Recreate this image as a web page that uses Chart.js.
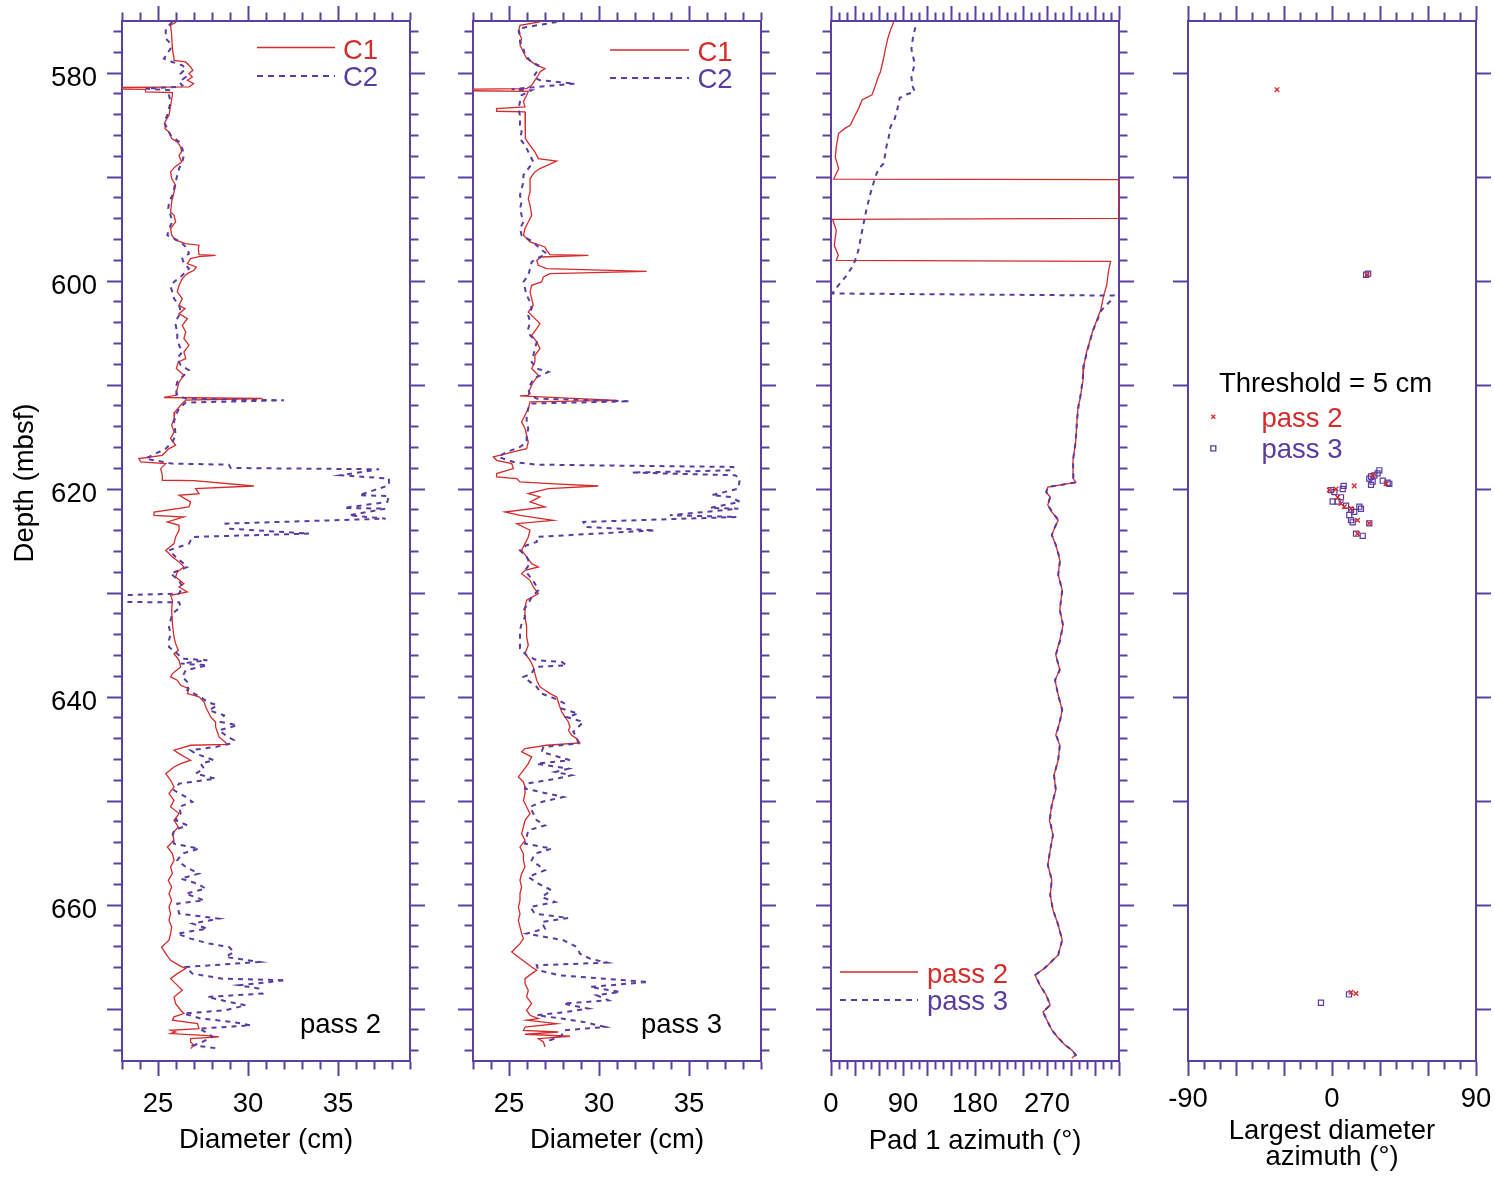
<!DOCTYPE html>
<html>
<head>
<meta charset="utf-8">
<title>Caliper and azimuth logs, 575–675 mbsf</title>
<script src="https://cdn.jsdelivr.net/npm/chart.js@4.4.1/dist/chart.umd.min.js"></script>
<style>
  html, body { margin: 0; padding: 0; background: #fff; }
  body { width: 1495px; height: 1178px; position: relative; overflow: hidden; }
  canvas { position: absolute; top: 0; }
</style>
</head>
<body>
<canvas id="c1" width="435" height="1178" style="left:0px"></canvas>
<canvas id="c2" width="338" height="1178" style="left:448px"></canvas>
<canvas id="c3" width="338" height="1178" style="left:806px"></canvas>
<canvas id="c4" width="348" height="1178" style="left:1158px"></canvas>
<script>
// ---------- Pass 2 calipers (cm) ----------
const pass2C1Depth = [575.09,575.41,576.37,577.66,578.62,578.78,578.94,579.42,579.74,580.06,580.38,580.70,581.02,581.34,581.40,581.55,581.57,581.82,581.89,582.14,584.07,584.71,585.35,585.67,586.31,586.63,587.11,587.59,587.91,588.55,589.03,589.51,590.15,590.80,591.44,592.40,593.36,593.68,594.32,594.96,595.60,596.08,596.40,596.56,596.89,597.46,597.53,597.65,597.85,598.33,598.65,598.97,599.29,599.77,600.41,601.05,601.69,602.33,602.65,603.14,603.62,604.26,604.90,605.54,606.18,606.82,607.46,607.78,608.42,609.07,609.71,610.35,610.99,611.20,611.30,611.45,611.95,612.59,613.23,613.87,614.51,615.15,615.80,616.12,616.76,617.08,617.40,617.56,618.04,618.68,619.16,619.20,619.71,619.96,620.44,620.60,621.24,621.73,622.21,622.53,622.69,623.17,623.49,623.97,624.61,625.25,625.89,626.53,627.01,627.50,627.98,628.46,629.10,629.42,629.90,630.22,630.70,631.66,632.94,634.23,634.87,635.51,635.83,636.47,637.11,637.75,638.07,638.39,638.87,639.19,639.67,639.99,640.48,640.96,641.28,641.92,642.40,642.88,643.36,643.84,644.32,644.55,644.64,645.12,645.44,646.08,646.41,646.73,647.37,648.01,648.65,649.29,649.93,650.57,651.21,651.85,652.50,653.14,653.78,654.42,655.06,655.70,656.34,656.98,657.63,658.27,658.91,659.55,660.19,660.83,661.47,662.11,662.75,663.39,664.04,664.68,665.32,665.80,666.12,666.60,667.08,667.56,668.20,668.84,669.48,670.12,670.44,670.76,671.08,671.41,671.89,672.05,672.21,672.37,672.53,672.69,672.85,673.17,673.49,673.81];
const pass2C1Diam = [26.02,25.70,25.76,25.80,25.89,25.89,26.54,26.81,26.94,26.72,26.91,26.63,26.98,26.72,22.50,22.50,24.31,24.31,25.80,25.80,25.61,25.39,25.39,25.61,25.76,26.07,26.26,26.31,26.17,26.31,25.94,25.70,25.76,25.98,25.89,25.76,25.70,25.89,25.98,25.70,25.76,25.98,26.54,27.28,27.24,27.28,28.20,27.28,26.81,26.63,27.13,27.00,26.63,26.35,26.17,26.07,26.35,26.17,26.50,26.17,26.63,26.35,26.54,26.44,26.72,26.44,26.54,26.13,26.02,26.44,26.17,26.07,25.98,25.33,30.80,26.54,26.26,25.94,25.89,25.76,25.89,25.70,25.98,25.61,25.24,23.94,24.04,25.43,25.15,25.24,25.24,27.00,30.33,27.09,27.28,26.17,26.81,26.72,24.78,24.78,26.44,25.52,26.17,26.17,25.98,25.89,25.43,25.80,26.17,26.44,26.07,25.98,26.44,26.17,26.63,25.70,25.80,25.76,25.80,25.89,25.98,26.13,25.89,26.17,26.26,25.80,25.70,26.07,26.26,26.72,26.63,27.28,27.56,27.65,27.74,27.93,28.20,28.20,28.30,28.39,28.72,28.85,26.81,25.89,26.17,26.81,26.26,25.89,25.43,25.70,25.89,25.61,25.89,25.70,26.17,25.89,26.13,25.80,25.89,25.52,25.80,25.89,25.70,25.80,25.57,25.76,25.61,25.76,25.61,25.70,25.61,25.76,25.70,25.61,25.20,25.43,25.70,26.17,26.54,26.07,25.70,25.98,26.35,25.89,25.98,26.26,26.44,25.89,25.80,27.19,27.28,25.70,25.98,25.70,27.56,28.39,26.81,26.81,27.00,26.81];

const pass2C2Depth = [575.09,575.73,576.69,577.01,577.66,578.62,578.94,579.26,579.58,580.06,580.38,580.86,581.18,581.34,581.50,581.66,582.14,582.78,583.42,584.07,584.71,585.35,585.99,586.63,587.27,587.91,588.55,589.19,589.83,590.48,591.12,591.76,592.40,593.04,593.68,594.32,594.96,595.60,596.24,596.89,597.37,597.85,598.33,598.81,599.45,600.09,600.57,601.05,601.69,602.33,602.98,603.62,604.26,604.90,605.54,606.18,606.82,607.46,608.10,608.58,609.07,609.71,610.35,610.99,611.31,611.47,611.69,612.27,612.91,613.55,614.19,614.83,615.48,616.12,616.44,617.08,617.56,617.66,617.98,618.10,618.68,619.00,619.64,620.60,620.67,621.24,621.82,621.89,622.53,622.85,623.33,623.81,624.29,624.61,625.25,625.89,626.53,627.18,627.50,628.14,628.78,629.42,630.06,630.22,630.86,630.90,631.34,631.98,632.62,633.26,633.91,634.55,635.19,635.83,636.31,636.47,636.79,636.95,637.43,638.07,638.71,639.35,639.99,640.48,640.80,641.28,641.76,642.40,642.72,643.20,643.68,644.16,644.48,644.80,645.12,645.44,646.08,646.41,646.89,647.37,647.85,648.33,648.97,649.61,650.09,650.57,651.21,651.85,652.34,652.82,653.46,654.10,654.58,655.06,655.70,656.34,656.98,657.46,657.95,658.43,658.91,659.55,659.87,660.83,661.31,661.79,662.27,662.75,663.23,663.71,664.04,664.52,665.00,665.48,665.96,666.60,667.08,667.24,667.72,668.04,668.52,668.84,669.32,669.64,670.12,670.44,670.92,671.24,671.57,671.89,672.37,672.69,673.17,673.49,673.81];
const pass2C2Diam = [25.80,25.43,25.43,25.61,25.70,25.33,25.80,26.35,26.54,26.26,26.54,26.17,26.35,26.07,24.31,25.70,25.61,25.70,25.61,25.52,25.33,25.52,25.70,26.17,26.35,26.44,26.35,26.17,26.07,25.98,25.89,25.80,25.61,25.57,25.70,25.80,25.61,25.52,26.26,26.63,26.72,26.35,26.44,26.72,26.35,25.89,25.70,25.80,25.89,26.17,26.26,26.07,25.98,26.07,26.07,26.17,26.35,26.07,26.26,26.72,26.44,26.07,25.98,26.07,26.54,32.00,26.54,26.17,25.98,25.89,25.94,25.98,25.80,25.43,25.06,24.31,25.80,28.94,29.04,37.28,35.15,37.83,37.83,36.17,37.83,37.74,35.33,37.65,35.61,37.65,28.76,28.94,33.39,26.91,26.72,25.61,25.98,26.44,26.63,25.70,26.17,26.35,26.17,22.80,22.80,26.17,26.26,25.80,25.70,25.61,25.70,25.61,25.61,26.07,26.35,27.74,26.26,27.74,26.54,26.35,26.72,26.63,27.37,27.74,28.30,27.83,28.67,28.48,29.41,28.39,28.76,29.22,29.04,28.20,26.81,27.09,28.11,27.37,27.56,27.09,28.20,26.17,25.89,26.54,26.91,26.17,26.26,25.98,26.63,25.89,25.80,25.89,27.28,26.35,26.07,26.54,27.28,26.26,27.19,27.65,26.54,27.56,26.07,26.17,28.39,26.91,27.74,26.07,26.81,27.83,28.94,29.22,28.76,30.61,26.54,26.91,28.57,32.09,29.50,30.61,30.80,27.74,28.94,29.87,28.76,26.44,27.37,29.13,30.15,27.28,27.83,28.02,27.46,27.00,28.39];

// ---------- Pass 3 calipers (cm) ----------
const pass3C1Depth = [575.09,575.41,576.05,576.69,577.33,577.98,578.62,579.26,579.58,579.90,580.22,580.70,581.18,581.50,581.57,581.70,581.76,582.14,582.78,583.26,583.42,583.68,583.74,584.71,585.67,586.31,586.95,587.59,588.23,588.46,589.19,589.51,590.15,590.80,591.44,592.08,592.72,593.68,594.32,594.96,595.60,596.24,596.73,597.05,597.46,597.53,597.69,598.01,598.49,598.81,599.07,599.29,599.61,600.09,600.41,601.05,601.69,602.33,602.98,603.62,604.10,604.58,605.22,605.86,606.50,607.14,607.78,608.42,609.07,609.71,610.35,610.99,611.05,611.47,611.63,612.27,612.91,613.55,614.19,614.83,615.48,616.12,616.44,616.92,617.24,617.56,618.04,618.52,618.84,619.00,619.32,619.48,619.71,619.96,620.44,620.76,621.24,621.73,622.21,622.53,623.01,623.33,623.97,624.61,625.25,625.89,626.53,627.18,627.50,627.82,628.14,628.78,629.42,630.06,630.70,631.34,632.30,633.26,634.23,635.03,635.83,636.47,637.11,637.75,638.39,639.03,639.35,639.67,639.99,640.48,640.96,641.44,641.92,642.40,642.88,643.20,643.68,644.00,644.42,644.64,644.96,645.28,645.76,646.41,647.05,647.69,648.17,648.65,649.29,649.93,650.57,651.21,651.85,652.50,653.14,653.78,654.42,655.06,655.70,656.34,656.98,657.63,658.27,658.91,659.55,660.19,660.83,661.47,662.11,662.75,663.23,663.71,664.20,664.52,665.00,665.48,665.96,666.28,666.60,667.08,667.56,668.20,668.84,669.48,670.12,670.60,670.92,671.08,671.41,671.73,672.05,672.21,672.43,672.62,672.85,673.17,673.65];
const pass3C1Diam = [26.72,25.61,25.52,25.70,25.61,25.80,25.98,26.54,27.00,26.72,26.63,26.44,26.26,25.98,22.50,22.50,26.07,25.98,25.80,25.89,24.31,24.31,25.89,25.89,25.89,25.94,26.17,26.44,26.63,27.65,26.72,26.44,26.17,26.17,26.17,26.07,26.17,26.26,26.07,25.89,25.80,26.17,27.00,27.09,27.28,29.41,26.81,26.54,26.63,27.09,32.65,27.28,26.91,26.81,26.26,26.17,26.26,26.35,26.07,26.44,26.72,26.54,26.26,26.54,26.72,26.44,26.44,26.26,26.63,26.35,26.17,26.07,25.61,30.98,26.17,26.07,25.89,25.70,25.89,25.98,26.07,25.98,25.24,24.13,24.31,25.15,25.24,24.31,24.31,25.43,25.61,27.28,29.96,27.19,26.07,26.72,26.17,27.00,24.78,25.61,27.46,25.43,26.17,26.07,25.89,25.70,25.98,26.26,26.63,25.89,25.70,26.17,26.35,26.63,25.98,25.89,25.89,25.98,25.98,26.07,25.89,26.17,26.35,26.44,26.54,26.72,27.00,27.28,27.65,27.74,27.83,27.93,28.11,28.30,28.39,28.30,28.48,28.76,28.94,27.09,25.89,25.70,26.26,26.07,25.80,25.52,25.80,25.89,25.89,25.80,25.98,26.17,25.89,25.80,25.70,25.89,25.61,25.80,25.80,25.89,25.70,25.61,25.70,25.61,25.61,25.52,25.61,25.52,25.61,25.70,25.80,25.61,25.33,25.15,25.52,25.89,26.26,26.54,26.26,25.89,25.89,26.07,25.98,26.26,25.98,26.17,26.63,25.98,27.65,25.89,25.80,27.74,25.89,28.39,26.63,26.91,27.00];

const pass3C2Depth = [575.09,575.73,576.37,577.01,577.66,578.30,578.94,579.26,579.90,580.38,580.70,581.02,581.34,581.57,581.66,582.14,582.78,583.42,584.07,585.03,585.67,586.31,586.95,587.91,588.55,589.19,589.83,590.48,591.12,591.76,592.40,593.04,593.68,594.32,594.96,595.60,596.24,596.89,597.37,597.85,598.17,598.81,599.45,600.09,600.73,601.37,602.01,602.65,603.30,603.94,604.58,605.22,605.86,606.50,607.14,607.78,608.42,608.75,609.23,609.71,610.35,610.99,611.31,611.56,611.79,612.27,612.91,613.55,614.19,614.83,615.48,615.96,616.44,616.92,617.40,617.66,617.88,618.20,618.42,618.68,619.00,619.96,620.60,620.76,621.24,621.82,621.89,622.53,622.69,623.17,623.65,623.97,624.61,625.09,625.41,625.89,626.53,627.18,627.82,628.46,629.10,629.74,630.38,631.02,631.66,632.30,632.94,633.59,634.55,635.35,635.99,636.47,636.63,636.95,637.11,637.75,638.07,638.55,639.03,639.67,640.16,640.64,641.12,641.60,641.92,642.40,642.88,643.36,643.84,644.48,644.80,645.28,646.08,646.41,646.89,647.21,647.53,647.85,648.33,648.81,649.61,650.09,650.57,651.21,651.85,652.34,652.82,653.46,654.10,654.58,655.06,655.70,656.66,657.30,657.95,658.59,659.23,659.71,660.19,660.83,661.25,661.63,662.27,662.75,663.39,664.04,664.68,665.16,665.54,665.80,666.28,666.76,667.40,667.88,668.36,668.68,669.16,669.48,669.96,670.28,670.60,670.92,671.24,671.73,672.05,672.53,673.01,673.49];
const pass3C2Diam = [27.65,25.52,25.61,25.61,25.80,25.89,26.26,26.63,26.54,26.35,26.72,28.67,26.54,25.15,26.26,25.70,25.61,25.52,25.61,25.61,25.70,25.61,25.89,26.17,26.35,26.07,25.80,25.80,25.70,25.61,25.70,25.61,25.70,25.80,25.61,25.70,26.35,26.72,27.09,26.54,26.26,26.17,26.07,25.80,25.89,25.98,26.17,26.26,26.07,26.17,26.07,26.17,26.54,26.44,26.35,26.26,26.54,27.19,26.54,26.26,26.07,26.17,26.54,31.72,26.17,26.07,25.98,25.98,26.07,25.98,25.98,25.61,24.87,24.41,25.24,26.54,37.46,37.46,31.81,37.56,37.83,37.74,36.26,37.28,37.83,36.17,37.74,33.94,37.65,29.13,29.22,33.11,26.54,26.54,25.98,25.61,25.98,26.17,25.89,26.17,26.44,26.63,26.26,26.07,25.80,25.89,25.70,25.61,25.61,25.61,25.98,26.54,27.93,28.20,26.44,26.26,25.80,26.17,26.54,26.81,27.56,28.11,27.93,28.85,28.20,29.13,28.85,28.57,28.76,28.85,26.91,26.81,28.39,26.54,28.30,27.56,28.48,27.65,25.98,25.89,28.02,26.81,26.17,26.35,26.54,27.00,26.07,25.98,25.89,27.37,26.44,26.26,27.00,26.07,26.63,27.37,26.81,27.56,26.17,26.44,28.30,26.81,27.00,25.98,28.02,28.76,28.94,29.50,30.43,26.54,26.63,27.83,32.74,29.50,31.17,29.87,30.52,28.02,29.41,28.20,26.54,27.93,29.13,30.33,28.02,27.93,27.28,27.37];

// ---------- Pad 1 azimuth (degrees) ----------
const pad1Pass2Depth = [575.1,575.9,576.7,577.7,578.8,579.9,580.5,581.5,582.1,582.6,583.4,584.2,585.0,585.3,585.8,587.1,588.1,589.2,590.2,590.25,593.97,594.07,595.13,596.57,597.53,598.01,598.11,598.97,600.41,601.38,602.82,604.74,606.66,608.11,609.55,611.47,612.0,613.39,615.32,617.24,618.97,619.36,619.81,620.29,620.77,621.54,622.21,622.98,623.65,624.42,625.38,626.83,628.27,629.71,631.63,633.08,634.52,635.96,637.40,638.37,639.81,641.25,642.40,643.65,644.62,646.06,647.50,648.94,650.38,651.83,653.27,654.71,656.15,657.60,659.04,660.48,661.92,663.37,664.81,666.06,666.73,667.69,668.65,669.62,670.29,671.25,672.02,672.79,673.46,673.94,674.42,674.71];
const pad1Pass2Az = [78.3,74.2,70.9,68.0,65.1,61.7,58.4,54.2,51.3,38.8,34.6,29.2,24.2,17.9,9.5,6.6,5.4,9.5,3.3,359.5,359.5,2.0,6.6,4.1,9.1,6.6,349.6,347.0,344.6,340.9,337.0,327.5,320.0,316.0,315.0,311.0,309.0,307.5,306.0,302.5,302.5,306.0,271.0,269.0,274.0,271.0,276.0,284.0,280.0,276.0,281.0,286.0,284.0,289.0,286.0,290.0,286.0,281.0,286.0,280.0,284.0,289.0,286.0,281.0,286.0,284.0,278.8,281.0,276.0,273.0,277.5,274.0,271.0,276.0,274.0,277.5,284.0,289.0,284.0,267.5,255.0,261.0,269.0,274.0,265.0,271.0,276.0,284.0,292.5,301.0,306.0,301.0];

const pad1Pass3Depth = [575.6,576.5,577.7,579.1,580.4,581.3,581.8,582.1,582.4,583.6,584.4,585.2,586.2,587.1,588.1,588.7,589.2,590.0,591.6,593.2,595.1,597.1,598.5,599.5,600.2,600.9,601.2,601.4,601.9,602.82,604.74,606.66,608.11,609.55,611.47,612.0,613.39,615.32,617.24,618.97,619.36,619.81,620.29,620.77,621.54,622.21,622.98,623.65,624.42,625.38,626.83,628.27,629.71,631.63,633.08,634.52,635.96,637.40,638.37,639.81,641.25,642.40,643.65,644.62,646.06,647.50,648.94,650.38,651.83,653.27,654.71,656.15,657.60,659.04,660.48,661.92,663.37,664.81,666.06,666.73,667.69,668.65,669.62,670.29,671.25,672.02,672.79,673.46,673.94,674.42,674.71];
const pad1Pass3Az = [105.5,102.6,100.5,104.6,100.5,102.1,104.6,93.0,85.9,82.6,79.6,74.2,72.1,69.2,67.1,65.8,59.6,55.4,49.2,44.1,39.1,34.1,27.9,19.1,11.6,4.1,1.6,353.3,349.6,338.0,327.5,320.5,316.0,314.5,311.0,309.5,307.5,306.0,302.5,303.0,306.0,271.5,269.0,274.0,271.0,276.5,284.0,280.0,276.0,281.0,286.5,284.0,289.0,286.0,290.0,286.5,281.0,286.0,280.0,284.0,289.0,286.0,281.5,286.0,284.0,278.8,281.0,276.0,273.5,277.5,274.0,271.0,276.0,274.0,277.5,284.0,289.0,284.0,267.0,255.5,261.0,269.0,274.0,265.0,271.0,276.0,284.5,292.5,301.0,306.0,301.0];

// ---------- Largest diameter azimuth (degrees), threshold 5 cm ----------
const ldPass2Depth = [581.6,599.4,619.7,620.1,620.0,621.4,621.7,623.0,623.3,624.3,619.5,621.9,620.8,618.7,668.4,668.5];
const ldPass2Az = [-34.4,21.9,13.9,-1.7,2.5,5.6,7.7,16.0,23.3,16.0,33.8,11.9,3.5,25.4,11.9,15.0];
const ldPass3Depth = [599.4,599.3,618.2,618.5,618.7,618.8,619.0,619.3,619.6,619.2,619.4,619.5,620.1,620.3,619.7,620.0,621.2,621.2,620.8,621.6,622.0,622.2,621.7,622.5,623.0,623.2,624.3,624.5,623.3,621.9,668.6,669.4];
const ldPass3Az = [21.3,22.6,29.6,28.5,26.5,24.4,23.3,25.4,24.4,31.7,34.8,35.8,-0.6,1.5,7.3,6.7,0.4,3.5,5.6,8.8,11.9,13.9,17.1,10.8,11.9,12.9,15.0,19.2,23.3,18.1,10.6,-6.9];

// ---------- Axis ticks ----------
const range = (a, b, s) => { const r = []; for (let v = a; v <= b + 1e-9; v += s) r.push(v); return r; };
const depthTicks = range(576, 674, 2);
const depthMajor = [580, 590, 600, 610, 620, 630, 640, 650, 660, 670];
const depthLabels = [580, 600, 620, 640, 660];
const diamTicks = range(23, 39, 1);
const diamMajor = [25, 30, 35];
const diamLabels = [25, 30, 35];
const azTicks = range(0, 360, 10);
const azMajor = [0, 30, 60, 90, 120, 150, 180, 210, 240, 270, 300, 330, 360];
const azLabels = [0, 90, 180, 270];
const ldTicks = range(-90, 90, 10);
const ldMajor = [-90, -60, -30, 0, 30, 60, 90];
const ldLabels = [-90, 0, 90];

const AXIS = '#5b3fa3';
const RED = '#d52b2b';
const PURPLE = '#5a3ba0';
const FONT = '"Liberation Sans", Arial, Helvetica, sans-serif';
const FS = 27.5;
Chart.defaults.font.family = FONT;
Chart.defaults.font.size = FS;
Chart.defaults.color = '#000';

const pts = (depth, vals) => depth.map((d, i) => ({ x: vals[i], y: d }));

// Legends and captions drawn inside each panel (offsets from the plot area's top-left corner)
const NOTES = {
  c1: [
    { line: true, x1: 135, x2: 213, y: 26.5, color: RED, width: 1.3 },
    { text: 'C1', dx: 221, dy: 37.5, color: RED },
    { line: true, x1: 135, x2: 213, y: 55, color: PURPLE, width: 2, dash: [6, 5] },
    { text: 'C2', dx: 221, dy: 65, color: PURPLE },
    { text: 'pass 2', dx: 178, dy: 1012, color: '#000' },
    { text: 'Depth (mbsf)', dx: -97, dy: 462, color: '#000', rotate: true }
  ],
  c2: [
    { line: true, x1: 137, x2: 216, y: 29, color: RED, width: 1.3 },
    { text: 'C1', dx: 224.5, dy: 39.5, color: RED },
    { line: true, x1: 137, x2: 216, y: 57, color: PURPLE, width: 2, dash: [6, 5] },
    { text: 'C2', dx: 224.5, dy: 66.5, color: PURPLE },
    { text: 'pass 3', dx: 168, dy: 1012, color: '#000' }
  ],
  c3: [
    { line: true, x1: 9, x2: 87, y: 951, color: RED, width: 1.3 },
    { text: 'pass 2', dx: 96, dy: 961.5, color: RED },
    { line: true, x1: 9, x2: 87, y: 979, color: PURPLE, width: 2, dash: [6, 5] },
    { text: 'pass 3', dx: 96, dy: 989, color: PURPLE }
  ],
  c4: [
    { text: 'Threshold = 5 cm', dx: 31, dy: 370.5, color: '#000' },
    { marker: 'cross', dx: 25.3, dy: 395.7, color: RED },
    { text: 'pass 2', dx: 73.5, dy: 405.5, color: RED },
    { marker: 'square', dx: 25.3, dy: 427.3, color: PURPLE },
    { text: 'pass 3', dx: 73.5, dy: 436.5, color: PURPLE }
  ]
};

const panelNotes = {
  id: 'panelNotes',
  afterDraw(chart) {
    const items = NOTES[chart.canvas.id] || [];
    const { ctx, chartArea: a } = chart;
    ctx.save();
    for (const it of items) {
      if (it.line) {
        ctx.beginPath();
        ctx.setLineDash(it.dash || []);
        ctx.lineWidth = it.width;
        ctx.strokeStyle = it.color;
        ctx.moveTo(a.left + it.x1, a.top + it.y);
        ctx.lineTo(a.left + it.x2, a.top + it.y);
        ctx.stroke();
        ctx.setLineDash([]);
      } else if (it.marker) {
        const x = a.left + it.dx, y = a.top + it.dy;
        ctx.strokeStyle = it.color;
        ctx.lineWidth = 1.3;
        ctx.beginPath();
        if (it.marker === 'cross') {
          ctx.moveTo(x - 2, y - 2); ctx.lineTo(x + 2, y + 2);
          ctx.moveTo(x + 2, y - 2); ctx.lineTo(x - 2, y + 2);
        } else {
          ctx.rect(x - 2.5, y - 2.5, 5, 5);
        }
        ctx.stroke();
      } else if (it.text) {
        ctx.font = FS + 'px ' + FONT;
        ctx.fillStyle = it.color;
        if (it.rotate) {
          ctx.save();
          ctx.translate(a.left + it.dx, a.top + it.dy);
          ctx.rotate(-Math.PI / 2);
          ctx.textAlign = 'center';
          ctx.textBaseline = 'middle';
          ctx.fillText(it.text, 0, 0);
          ctx.restore();
        } else {
          ctx.textAlign = 'left';
          ctx.textBaseline = 'alphabetic';
          ctx.fillText(it.text, a.left + it.dx, a.top + it.dy);
        }
      }
    }
    ctx.restore();
  }
};
Chart.register(panelNotes);

// One axis with long major ticks and short minor ticks (minor ticks are dashed down to their short length)
function axis(o) {
  const horiz = o.pos === 'top' || o.pos === 'bottom';
  const outward = o.pos === 'bottom' || o.pos === 'right';
  const cfg = {
    type: 'linear',
    position: o.pos,
    min: o.min,
    max: o.max,
    reverse: !horiz,
    afterBuildTicks: s => { s.ticks = o.ticks.map(v => ({ value: v })); },
    afterFit: s => {
      if (horiz) {
        s.height = o.size;
      } else {
        s.width = o.size;
        s.paddingTop = 0;
        s.paddingBottom = 0;
      }
    },
    border: { display: true, color: AXIS, width: 2 },
    grid: {
      drawOnChartArea: false,
      drawTicks: true,
      tickLength: 15,
      tickWidth: 2,
      color: AXIS,
      tickBorderDash: c => (c.tick && o.major.includes(c.tick.value)) ? [] : (outward ? [7.5, 40] : [0, 6.5, 8, 40])
    },
    ticks: {
      display: !!o.labels,
      autoSkip: false,
      maxRotation: 0,
      minRotation: 0,
      padding: o.pad || 0,
      labelOffset: o.labelOffset || 0,
      color: '#000',
      font: { size: FS },
      callback: v => (o.labels && o.labels.includes(v)) ? String(v) : ''
    },
    title: { display: false }
  };
  if (o.title) {
    cfg.title = {
      display: true,
      text: o.title,
      color: '#000',
      font: { size: FS, lineHeight: o.titleLH || 1.2 },
      padding: { top: 0, bottom: o.titlePad }
    };
  }
  return cfg;
}

function panel(id, datasets, x, yLeft, yRight) {
  return new Chart(document.getElementById(id), {
    type: 'scatter',
    data: { datasets },
    options: {
      responsive: false,
      animation: false,
      events: [],
      layout: { padding: 0 },
      plugins: { legend: { display: false }, tooltip: { enabled: false } },
      scales: {
        x: axis(Object.assign({ pos: 'bottom', size: 117 }, x)),
        xTop: axis(Object.assign({}, x, { pos: 'top', size: 21, labels: null, title: null })),
        y: axis(yLeft),
        yRight: axis(yRight)
      }
    }
  });
}

function curve(depth, vals, color, dashed) {
  return {
    data: pts(depth, vals),
    showLine: true,
    pointRadius: 0,
    borderColor: color,
    borderWidth: dashed ? 2 : 1.3,
    borderDash: dashed ? [5, 5] : [],
    tension: 0,
    fill: false
  };
}

const depthAxis = { min: 575, max: 675, ticks: depthTicks, major: depthMajor };

// Panel 1: pass 2 calipers
panel('c1',
  [curve(pass2C2Depth, pass2C2Diam, PURPLE, true), curve(pass2C1Depth, pass2C1Diam, RED, false)],
  { min: 23, max: 39, ticks: diamTicks, major: diamMajor, labels: diamLabels, pad: 11.5, title: 'Diameter (cm)', titlePad: 21.5 },
  Object.assign({ pos: 'left', size: 122, labels: depthLabels, pad: 10, labelOffset: 5 }, depthAxis),
  Object.assign({ pos: 'right', size: 25 }, depthAxis));

// Panel 2: pass 3 calipers
panel('c2',
  [curve(pass3C2Depth, pass3C2Diam, PURPLE, true), curve(pass3C1Depth, pass3C1Diam, RED, false)],
  { min: 23, max: 39, ticks: diamTicks, major: diamMajor, labels: diamLabels, pad: 11.5, title: 'Diameter (cm)', titlePad: 21.5 },
  Object.assign({ pos: 'left', size: 25 }, depthAxis),
  Object.assign({ pos: 'right', size: 25 }, depthAxis));

// Panel 3: pad 1 azimuth
panel('c3',
  [curve(pad1Pass3Depth, pad1Pass3Az, PURPLE, true), curve(pad1Pass2Depth, pad1Pass2Az, RED, false)],
  { min: 0, max: 360, ticks: azTicks, major: azMajor, labels: azLabels, pad: 12, title: 'Pad 1 azimuth (°)', titlePad: 20.5 },
  Object.assign({ pos: 'left', size: 25 }, depthAxis),
  Object.assign({ pos: 'right', size: 25 }, depthAxis));

// Panel 4: azimuth of the largest diameter
const depthAxis10 = { min: 575, max: 675, ticks: depthMajor, major: depthMajor };
panel('c4',
  [
    { data: pts(ldPass2Depth, ldPass2Az), pointStyle: 'crossRot', pointRadius: 3.2, borderColor: RED, borderWidth: 1.4, backgroundColor: RED },
    { data: pts(ldPass3Depth, ldPass3Az), pointStyle: 'rect', pointRadius: 3.6, borderColor: PURPLE, borderWidth: 1.2, backgroundColor: 'rgba(0,0,0,0)' }
  ],
  { min: -90, max: 90, ticks: ldTicks, major: ldMajor, labels: ldLabels, pad: 6.5, title: ['Largest diameter', 'azimuth (°)'], titleLH: 0.95, titlePad: 7.5 },
  Object.assign({ pos: 'left', size: 30 }, depthAxis10),
  Object.assign({ pos: 'right', size: 30 }, depthAxis10));
</script>
</body>
</html>
